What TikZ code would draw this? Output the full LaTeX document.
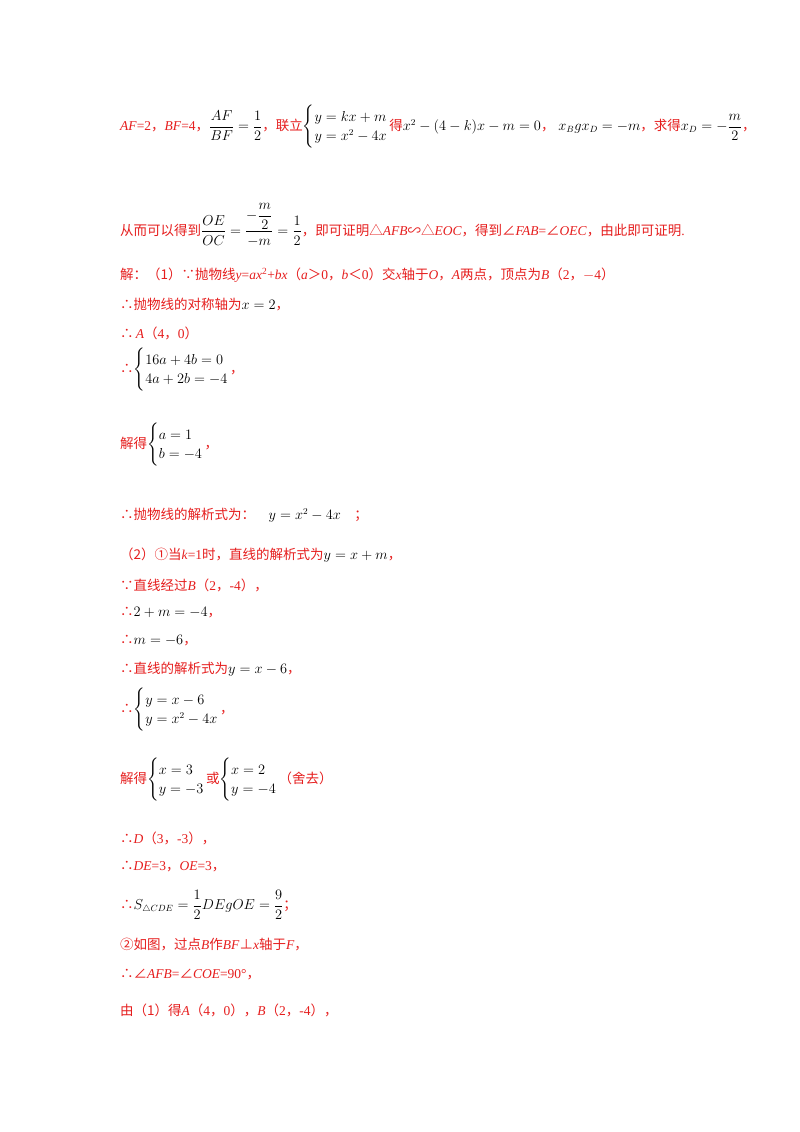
\documentclass[tikz,border=0pt]{standalone}
\usepackage{amsmath}
\usepackage{fontspec}
\setmainfont{Liberation Serif}
\newfontfamily\cjk{Noto Sans CJK SC}
\newcommand\zh[1]{{\cjk #1}}
\newcommand\K[1]{\textcolor{black}{$#1$}}
\definecolor{tred}{RGB}{230,30,30}
\tikzset{ln/.style={anchor=west,inner sep=0pt,text=tred,font=\fontsize{13.5}{16}\selectfont}}
\begin{document}
\begin{tikzpicture}[x=1pt,y=-1pt]
\useasboundingbox[fill=white] (0,0) rectangle (800,1132);
\node[ln] (l1) at (120,127) {\textit{AF}=2\zh{，}\textit{BF}=4\zh{，}\K{\dfrac{AF}{BF}=\dfrac12}\zh{，联立}\K{\begin{cases}y=kx+m\\y=x^2-4x\end{cases}}\hspace{-12pt}\zh{得}\K{x^2-(4-k)x-m=0}\zh{，}\;\K{x_B g x_D=-m}\zh{，求得}\K{x_D=-\dfrac m2}\zh{，}};
\node[ln] (l2) at (120,225) {\zh{从而可以得到}\K{\dfrac{OE}{OC}=\dfrac{-\dfrac m2}{-m}=\dfrac12}\zh{，即可证明△}\textit{AFB}\zh{∽△}\textit{EOC}\zh{，得到∠}\textit{FAB}=\zh{∠}\textit{OEC}\zh{，由此即可证明}.};
\node[ln] (l3) at (120,275) {\zh{解：（1）∵抛物线}\textit{y}=\textit{ax}\textsuperscript{2}+\textit{bx}\zh{（}\textit{a}\zh{＞}0\zh{，}\textit{b}\zh{＜}0\zh{）交}\textit{x}\zh{轴于}\textit{O}\zh{，}\textit{A}\zh{两点，顶点为}\textit{B}\zh{（}2\zh{，}$-$4\zh{）}};
\node[ln] (l4) at (120,305) {\zh{∴抛物线的对称轴为}\K{x=2}\zh{，}};
\node[ln] (l5) at (120,333) {\zh{∴}\,\textit{A}\zh{（}4\zh{，}0\zh{）}};
\node[ln] (l6) at (120,370) {\zh{∴}\K{\begin{cases}16a+4b=0\\4a+2b=-4\end{cases}}\hspace{-12pt}\zh{，}};
\node[ln] (l7) at (120,445) {\zh{解得}\K{\begin{cases}a=1\\b=-4\end{cases}}\hspace{-12pt}\zh{，}};
\node[ln] (l8) at (120,515) {\zh{∴抛物线的解析式为：}\quad\K{y=x^2-4x}\quad\zh{；}};
\node[ln] (l9) at (120,555) {\zh{（2）①当}\textit{k}=1\zh{时，直线的解析式为}\K{y=x+m}\zh{，}};
\node[ln] (l10) at (120,585) {\zh{∵直线经过}\textit{B}\zh{（}2\zh{，}-4\zh{），}};
\node[ln] (l11) at (120,613) {\zh{∴}\K{2+m=-4}\zh{，}};
\node[ln] (l12) at (120,641) {\zh{∴}\K{m=-6}\zh{，}};
\node[ln] (l13) at (120,669) {\zh{∴直线的解析式为}\K{y=x-6}\zh{，}};
\node[ln] (l14) at (120,710) {\zh{∴}\K{\begin{cases}y=x-6\\y=x^2-4x\end{cases}}\hspace{-12pt}\zh{，}};
\node[ln] (l15) at (120,780) {\zh{解得}\K{\begin{cases}x=3\\y=-3\end{cases}}\hspace{-12pt}\zh{或}\K{\begin{cases}x=2\\y=-4\end{cases}}\hspace{-12pt}\zh{（舍去）}};
\node[ln] (l16) at (120,838) {\zh{∴}\textit{D}\zh{（}3\zh{，}-3\zh{），}};
\node[ln] (l17) at (120,867) {\zh{∴}\textit{DE}=3\zh{，}\textit{OE}=3\zh{，}};
\node[ln] (l18) at (120,905) {\zh{∴}\K{S_{\triangle CDE}=\dfrac12 DE g OE=\dfrac92}\zh{；}};
\node[ln] (l19) at (120,945) {\zh{②如图，过点}\textit{B}\zh{作}\textit{BF}\zh{⊥}\textit{x}\zh{轴于}\textit{F}\zh{，}};
\node[ln] (l20) at (120,975) {\zh{∴∠}\textit{AFB}=\zh{∠}\textit{COE}=90°\zh{，}};
\node[ln] (l21) at (120,1010) {\zh{由（1）得}\textit{A}\zh{（}4\zh{，}0\zh{），}\textit{B}\zh{（}2\zh{，}-4\zh{），}};
\end{tikzpicture}
\end{document}
